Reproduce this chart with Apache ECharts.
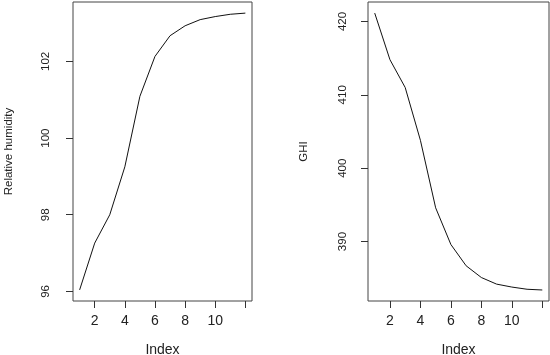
<!DOCTYPE html>
<html>
<head>
<meta charset="utf-8">
<script src="https://cdn.jsdelivr.net/npm/echarts@6/dist/echarts.min.js"></script>
<style>html,body{margin:0;padding:0;background:#fff;}#c{width:550px;height:355px;}</style>
</head>
<body>
<div id="c"></div>
<script>
const index = [1,2,3,4,5,6,7,8,9,10,11,12];
const humidity = [96.04,97.26,98.0,99.25,101.09,102.13,102.67,102.93,103.09,103.17,103.23,103.26];
const ghi = [421.14,414.79,411.0,403.8,394.6,389.6,386.7,385.1,384.2,383.8,383.5,383.4];
const xTicks = [2,4,6,8,10,12];
const xLabels = [2,4,6,8,10];
const humTicks = [96,98,100,102];
const ghiTicks = [390,400,410,420];

const font = 'Liberation Sans, Arial, sans-serif';
const txt = '#222';
function xAxis(gi){
  return {
    type:'value', gridIndex:gi, min:0.56, max:12.44,
    name:'Index', nameLocation:'middle', nameGap:42,
    nameTextStyle:{fontFamily:font,fontSize:14,color:txt},
    axisLine:{show:false},
    splitLine:{show:false},
    axisTick:{show:true,length:7,lineStyle:{color:'#333'},customValues:xTicks},
    axisLabel:{fontFamily:font,fontSize:14,color:txt,margin:13,customValues:xLabels}
  };
}
function yAxis(gi,min,max,ticks,name,margin,gap){
  return {
    type:'value', gridIndex:gi, min:min, max:max,
    name:name, nameLocation:'middle', nameGap:gap, nameRotate:90,
    nameTextStyle:{fontFamily:font,fontSize:11.5,color:txt},
    axisLine:{show:false},
    splitLine:{show:false},
    axisTick:{show:true,length:7,lineStyle:{color:'#333'},customValues:ticks},
    axisLabel:{fontFamily:font,fontSize:11.5,color:txt,margin:margin,rotate:90,customValues:ticks}
  };
}
const chart = echarts.init(document.getElementById('c'),null,{renderer:'canvas'});
chart.setOption({
  animation:false,
  backgroundColor:'#fff',
  grid:[
    {left:73,top:2,width:179,height:299,show:true,borderColor:'#444',borderWidth:1,backgroundColor:'transparent',containLabel:false,outerBoundsMode:'none'},
    {left:368,top:2,width:181,height:299,show:true,borderColor:'#444',borderWidth:1,backgroundColor:'transparent',containLabel:false,outerBoundsMode:'none'}
  ],
  xAxis:[xAxis(0),xAxis(1)],
  yAxis:[
    yAxis(0,95.75,103.55,humTicks,'Relative humidity',21,58),
    yAxis(1,381.9,422.65,ghiTicks,'GHI',19,58)
  ],
  series:[
    {type:'line',xAxisIndex:0,yAxisIndex:0,data:index.map((x,i)=>[x,humidity[i]]),showSymbol:false,lineStyle:{color:'#111',width:1},silent:true},
    {type:'line',xAxisIndex:1,yAxisIndex:1,data:index.map((x,i)=>[x,ghi[i]]),showSymbol:false,lineStyle:{color:'#111',width:1},silent:true}
  ]
});
</script>
</body>
</html>
